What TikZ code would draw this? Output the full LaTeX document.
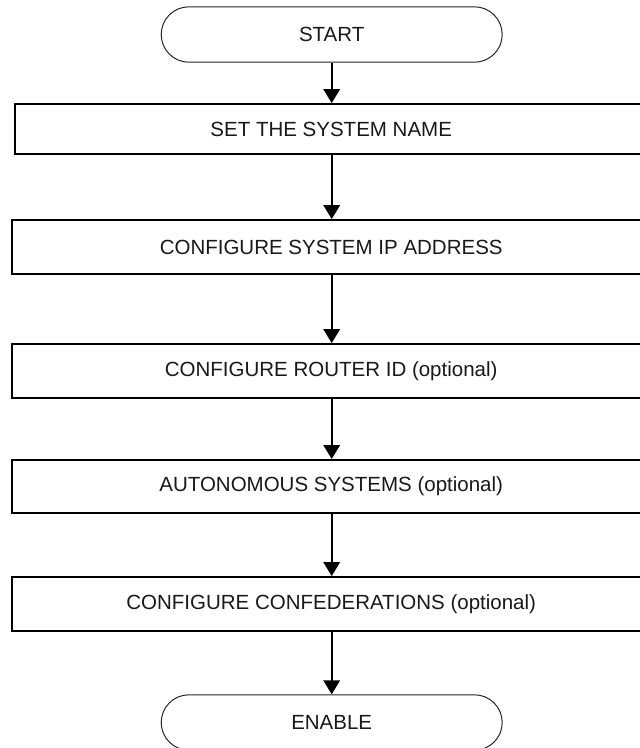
\documentclass[tikz,border=0pt]{standalone}
\usepackage{fontspec}
\setmainfont{Liberation Sans}
\usetikzlibrary{arrows.meta}
\begin{document}
\begin{tikzpicture}[x=1pt,y=-1pt,
  stepbox/.style={draw=black, line width=2.3pt, rectangle, inner sep=0pt,
    minimum width=638.4pt, minimum height=53.6pt, font=\fontsize{20.5}{24}\selectfont, text=black!90},
  term/.style={draw=black!85, line width=1pt, rectangle, rounded corners=27.7pt, inner sep=0pt,
    minimum width=341pt, minimum height=55.4pt, font=\fontsize{20.5}{24}\selectfont, text=black!90},
  flow/.style={draw=black, line width=2pt, -{Triangle[width=16.5pt,length=14pt]}}]
\useasboundingbox (0,0) rectangle (640,748);
\clip (0,0) rectangle (640,748);
\fill[white] (0,0) rectangle (640,748);
\node[term] (start) at (331.7,34.5) {START};
\node[stepbox, minimum width=632.4pt, minimum height=49.6pt] (b1) at (331.2,129) {SET THE SYSTEM NAME};
\node[stepbox] (b2) at (331.2,247) {CONFIGURE SYSTEM IP ADDRESS};
\node[stepbox] (b3) at (331.2,371) {CONFIGURE ROUTER ID (optional)};
\node[stepbox, minimum height=52.7pt] (b4) at (331.2,486.5) {AUTONOMOUS SYSTEMS (optional)};
\node[stepbox] (b5) at (331.2,604) {CONFIGURE CONFEDERATIONS (optional)};
\node[term] (enable) at (331.7,722.5) {ENABLE};
\draw[flow] (start.south -| 331.7,0) -- (b1.north -| 331.7,0);
\draw[flow] (b1.south -| 331.7,0) -- (b2.north -| 331.7,0);
\draw[flow] (b2.south -| 331.7,0) -- (b3.north -| 331.7,0);
\draw[flow] (b3.south -| 331.7,0) -- (b4.north -| 331.7,0);
\draw[flow] (b4.south -| 331.7,0) -- (b5.north -| 331.7,0);
\draw[flow] (b5.south -| 331.7,0) -- (enable.north -| 331.7,0);
\end{tikzpicture}
\end{document}
